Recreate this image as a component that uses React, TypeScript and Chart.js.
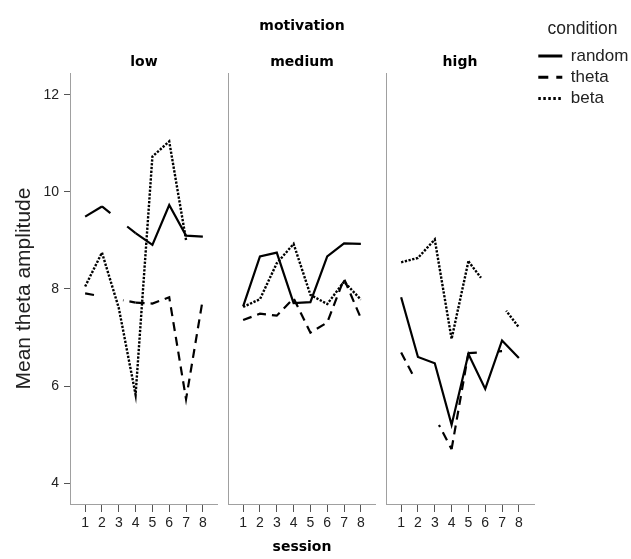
import React, { useEffect, useRef } from "react";
import { Chart, registerables } from "chart.js";

Chart.register(...registerables);

// ---------- data ----------
const sessions = [1, 2, 3, 4, 5, 6, 7, 8];
const motivationLevels = ["low", "medium", "high"];
const conditions = ["random", "theta", "beta"];
const yTicks = [4, 6, 8, 10, 12];

const randomLow = [9.49, 9.7, null, 9.15, 8.91, 9.73, 9.1, 9.08];
const thetaLow = [7.91, null, null, 7.72, 7.7, 7.83, 5.73, 7.8];
const betaLow = [8.05, 8.75, 7.61, 5.82, 10.73, 11.04, 9.01, null];

const randomMedium = [7.64, 8.67, 8.75, 7.71, 7.73, 8.67, 8.94, 8.93];
const thetaMedium = [7.36, 7.49, 7.45, 7.81, 7.1, 7.31, 8.21, 7.4];
const betaMedium = [7.63, 7.79, 8.53, 8.93, 7.88, 7.69, 8.15, 7.78];

const randomHigh = [7.83, 6.6, 6.47, 5.2, 6.66, 5.94, 6.94, 6.58];
const thetaHigh = [6.69, null, null, 4.7, 6.68, null, 6.72, null];
const betaHigh = [8.55, 8.64, 9.02, 6.97, 8.57, null, null, 7.21];

const seriesByPanel = [
  [randomLow, thetaLow, betaLow],
  [randomMedium, thetaMedium, betaMedium],
  [randomHigh, thetaHigh, betaHigh],
];

// ---------- styles ----------
const LINE_DASH = [[], [9, 6], [2.3, 1.5]];
const LINE_WIDTH = [2.2, 2.2, 2.4];
const LEGEND_DASH = [[], [10, 8], [2.5, 2.5]];
const TEXT = "#222";
const AXIS = "#a0a0a0";
const TICK = "#555";
const SANS = "'Liberation Sans', Arial, sans-serif";
const HEAD = "'DejaVu Sans', sans-serif";

const PANELS = [
  { left: 0, width: 218, yAxisWidth: 70 },
  { left: 222, width: 154, yAxisWidth: 6 },
  { left: 380, width: 251, yAxisWidth: 6 },
];
const HEIGHT = 559;

// "wings": across a missing session only the first and last quarter of the
// connecting line is drawn (keeping the series' own dash pattern)
function wingPattern(L: number, base: number[]): number[] {
  const w = L / 4;
  const windows: [number, number][] = [
    [0, w],
    [L - w, L],
  ];
  let ons: [number, number][] = [];
  if (!base.length) {
    ons = windows.slice();
  } else {
    const pat = base.length % 2 ? base.concat(base) : base;
    let t = 0;
    let i = 0;
    while (t < L && i < 10000) {
      const len = pat[i % pat.length];
      if (i % 2 === 0) {
        for (const [a, b] of windows) {
          const s = Math.max(t, a);
          const e = Math.min(t + len, b);
          if (e > s) ons.push([s, e]);
        }
      }
      t += len;
      i++;
    }
    ons.sort((p, q) => p[0] - q[0]);
  }
  const out: number[] = [0];
  let pos = 0;
  for (const [s, e] of ons) {
    out.push(s - pos, e - s);
    pos = e;
  }
  out.push(L + 1000);
  return out;
}

function gapDash(ctx: any, base: number[]) {
  if (!ctx.p0.skip && !ctx.p1.skip) return undefined;
  const chart = ctx.chart;
  const pts = chart.data.datasets[ctx.datasetIndex].data as any[];
  let a = ctx.p0DataIndex;
  while (a >= 0 && pts[a].y == null) a--;
  let b = ctx.p1DataIndex;
  while (b < pts.length && pts[b].y == null) b++;
  if (a < 0 || b >= pts.length) return undefined;
  const xs = chart.scales.x;
  const ys = chart.scales.y;
  const dx = xs.getPixelForValue(pts[b].x) - xs.getPixelForValue(pts[a].x);
  const dy = ys.getPixelForValue(pts[b].y) - ys.getPixelForValue(pts[a].y);
  return wingPattern(Math.hypot(dx, dy), base);
}

function buildConfig(p: number): any {
  const geo = PANELS[p];
  const isFirst = p === 0;
  const isMiddle = p === 1;
  const isLast = p === 2;
  const headFont = { family: HEAD, weight: "bold", size: 14 };

  const datasets = conditions.map((name, c) => ({
    label: name,
    data: sessions.map((s, i) => ({ x: s, y: seriesByPanel[p][c][i] })),
    borderColor: "#000",
    backgroundColor: "#000",
    borderWidth: LINE_WIDTH[c],
    borderDash: LINE_DASH[c],
    pointRadius: 0,
    pointHoverRadius: 0,
    tension: 0,
    spanGaps: true,
    fill: false,
    segment: {
      borderDash: (ctx: any) => gapDash(ctx, LINE_DASH[c]),
    },
  }));

  return {
    type: "line",
    data: { datasets },
    options: {
      animation: false,
      responsive: false,
      devicePixelRatio: 1,
      events: [],
      layout: { padding: 0, autoPadding: false },
      plugins: {
        tooltip: { enabled: false },
        legend: {
          display: isLast,
          position: "right",
          align: "start",
          maxWidth: 97,
          title: {
            display: true,
            text: "condition",
            color: TEXT,
            font: { family: SANS, size: 17.5 },
            padding: { top: 20.15, bottom: 2.05 },
          },
          labels: {
            usePointStyle: true,
            pointStyleWidth: 24,
            padding: 4.3,
            color: TEXT,
            font: { family: SANS, size: 17 },
            generateLabels: (chart: any) =>
              chart.data.datasets.map((ds: any, i: number) => ({
                text: ds.label,
                datasetIndex: i,
                strokeStyle: "#000",
                fillStyle: "rgba(0,0,0,0)",
                fontColor: TEXT,
                lineWidth: 3,
                lineDash: LEGEND_DASH[i],
                lineDashOffset: 0,
                lineCap: "butt",
                pointStyle: "line",
                rotation: 0,
                hidden: false,
              })),
          },
        },
        title: {
          display: true,
          text: isMiddle ? "motivation" : motivationLevels[p],
          fullSize: false,
          color: "#000",
          font: headFont,
          padding: isMiddle ? { top: 17.5, bottom: 0 } : { top: 53.5, bottom: 2.7 },
        },
        subtitle: {
          display: isMiddle,
          text: motivationLevels[1],
          fullSize: false,
          color: "#000",
          font: headFont,
          padding: { top: 19.2, bottom: 2.7 },
        },
      },
      scales: {
        x: {
          type: "linear",
          min: 0.1,
          max: 8.9,
          afterBuildTicks: (s: any) => {
            s.ticks = sessions.map((v) => ({ value: v }));
          },
          afterFit: (s: any) => {
            s.height = 55;
          },
          ticks: {
            autoSkip: false,
            maxRotation: 0,
            padding: 3,
            color: TEXT,
            font: { family: SANS, size: 14 },
            callback: (v: any) => String(v),
          },
          grid: {
            display: true,
            drawOnChartArea: false,
            drawTicks: true,
            tickLength: 8,
            color: TICK,
            lineWidth: 1,
          },
          border: { display: true, color: AXIS, width: 1 },
          title: {
            display: isMiddle,
            text: "session",
            color: "#000",
            font: headFont,
            padding: { top: 0, bottom: 3.6 },
          },
        },
        y: {
          type: "linear",
          min: 3.57,
          max: 12.45,
          afterBuildTicks: (s: any) => {
            s.ticks = yTicks.map((v) => ({ value: v }));
          },
          afterFit: (s: any) => {
            s.width = geo.yAxisWidth;
          },
          ticks: {
            display: isFirst,
            padding: 5,
            color: TEXT,
            font: { family: SANS, size: 14 },
          },
          grid: {
            display: true,
            drawOnChartArea: false,
            drawTicks: isFirst,
            tickLength: 6,
            color: TICK,
            lineWidth: 1,
          },
          border: { display: true, color: AXIS, width: 1 },
          title: {
            display: isFirst,
            text: "Mean theta amplitude",
            color: TEXT,
            font: { family: SANS, size: 21 },
            padding: { top: 12.1, bottom: 0 },
          },
        },
      },
    },
  };
}

export default function App() {
  const r0 = useRef<HTMLCanvasElement>(null);
  const r1 = useRef<HTMLCanvasElement>(null);
  const r2 = useRef<HTMLCanvasElement>(null);

  useEffect(() => {
    const refs = [r0, r1, r2];
    const charts = refs.map((r, i) => new Chart(r.current as HTMLCanvasElement, buildConfig(i)));
    return () => charts.forEach((c) => c.destroy());
  }, []);

  const refs = [r0, r1, r2];
  return (
    <div
      style={{
        position: "fixed",
        left: 0,
        top: 0,
        width: 631,
        height: HEIGHT,
        background: "#fff",
        overflow: "hidden",
      }}
    >
      {PANELS.map((g, i) => (
        <canvas
          key={i}
          ref={refs[i]}
          width={g.width}
          height={HEIGHT}
          style={{ position: "absolute", left: g.left, top: 0, width: g.width, height: HEIGHT }}
        />
      ))}
    </div>
  );
}
